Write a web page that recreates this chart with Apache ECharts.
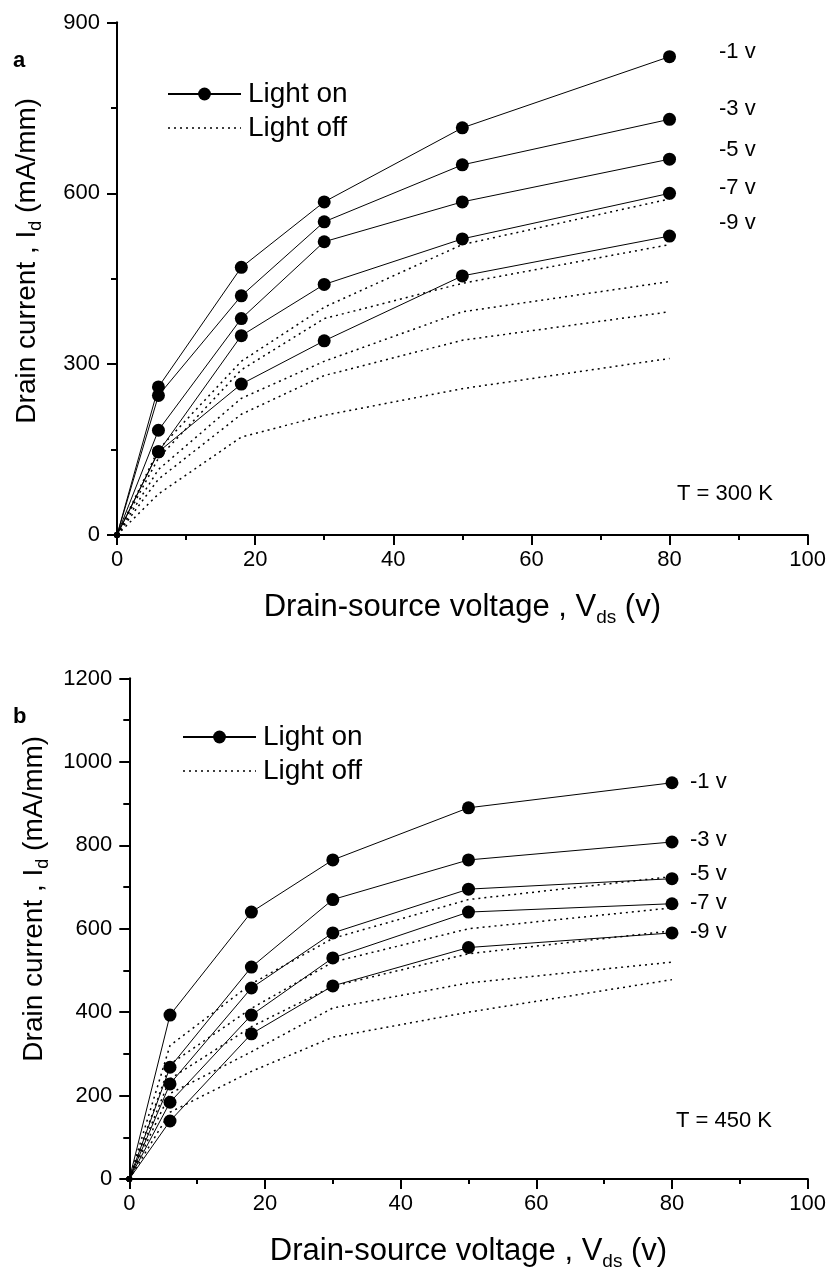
<!DOCTYPE html>
<html>
<head>
<meta charset="utf-8">
<script src="https://cdn.jsdelivr.net/npm/echarts@6/dist/echarts.min.js"></script>
<style>
  html, body { margin: 0; padding: 0; background: #fff; }
  #chart { width: 829px; height: 1272px; }
</style>
</head>
<body>
<div id="chart"></div>
<script>
// drain-source voltage points (v)
const vds = [0, 6, 18, 30, 50, 80]

// T = 300 K, light on (gate -1, -3, -5, -7, -9 v)
const onA1 = [0, 260, 470, 585, 715, 840]
const onA3 = [0, 245, 420, 550, 650, 730]
const onA5 = [0, 184, 380, 515, 585, 660]
const onA7 = [0, 146, 350, 440, 520, 600]
const onA9 = [0, 146, 265, 341, 455, 525]
// T = 300 K, light off
const offA1 = [0, 150, 305, 400, 510, 590]
const offA2 = [0, 135, 290, 380, 442, 510]
const offA3 = [0, 115, 240, 305, 392, 445]
const offA4 = [0, 98, 212, 280, 342, 392]
const offA5 = [0, 72, 172, 210, 257, 310]

// T = 450 K, light on
const onB1 = [0, 393, 640, 765, 890, 950]
const onB3 = [0, 268, 508, 670, 765, 808]
const onB5 = [0, 228, 458, 590, 695, 720]
const onB7 = [0, 184, 393, 530, 640, 660]
const onB9 = [0, 139, 348, 463, 555, 590]
// T = 450 K, light off
const offB1 = [0, 320, 468, 577, 670, 725]
const offB2 = [0, 275, 409, 520, 600, 650]
const offB3 = [0, 240, 365, 462, 540, 595]
const offB4 = [0, 205, 305, 410, 470, 520]
const offB5 = [0, 160, 258, 340, 400, 478]

const gateLabels = ["-1 v", "-3 v", "-5 v", "-7 v", "-9 v"]

const FONT = "Liberation Sans, Arial, sans-serif"
const black = "#000"
const dotted = [2, 4]

const pairs = (ys) => vds.map((x, i) => [x, ys[i]])

const onSeries = (ys, g) => ({
  name: "Light on",
  type: "line",
  xAxisIndex: g * 2,
  yAxisIndex: g * 2,
  data: pairs(ys),
  symbol: "circle",
  // the point at the origin sits on the frame and shows only as a small blob
  symbolSize: (v) => (v[0] === 0 ? 6 : 13),
  itemStyle: { color: black },
  lineStyle: { color: black, width: 1 },
  z: 3
})

const offSeries = (ys, g) => ({
  name: "Light off",
  type: "line",
  xAxisIndex: g * 2,
  yAxisIndex: g * 2,
  data: pairs(ys),
  symbol: "none",
  itemStyle: { color: black },
  lineStyle: { color: black, width: 1.5, type: dotted },
  z: 2
})

const subRich = (size, pad) => ({
  sub: { fontSize: size, fontFamily: FONT, color: black, padding: [pad, 0, 0, 0] }
})

const xBottom = (g) => ({
  type: "value",
  gridIndex: g,
  position: "bottom",
  min: 0,
  max: 100,
  interval: 20,
  axisLine: { lineStyle: { color: black, width: 2 } },
  axisTick: { inside: false, length: 10, lineStyle: { color: black, width: 2 } },
  minorTick: { show: true, splitNumber: 2, length: 5, lineStyle: { color: black, width: 2 } },
  axisLabel: { color: black, fontSize: 22, fontFamily: FONT, margin: 14 },
  splitLine: { show: false },
  name: "Drain-source voltage , V{sub|ds} (v)",
  nameLocation: "middle",
  nameGap: 53,
  nameTextStyle: { color: black, fontSize: 31, fontFamily: FONT, rich: subRich(19, 20) }
})

const xTop = (g) => ({
  type: "value",
  gridIndex: g,
  position: "top",
  min: 0,
  max: 100,
  interval: 10,
  axisLine: { lineStyle: { color: black, width: 2 } },
  axisTick: { inside: true, length: 4, lineStyle: { color: black, width: 1.5 } },
  axisLabel: { show: false },
  splitLine: { show: false }
})

const yLeft = (g, max, step, pad) => ({
  type: "value",
  gridIndex: g,
  position: "left",
  min: 0,
  max: max,
  interval: step,
  axisLine: { show: true, lineStyle: { color: black, width: 2 } },
  axisTick: { show: true, inside: false, length: 10, lineStyle: { color: black, width: 2 } },
  minorTick: { show: true, splitNumber: 2, length: 6, lineStyle: { color: black, width: 2 } },
  axisLabel: { color: black, fontSize: 22, fontFamily: FONT, margin: 17, formatter: (v) => String(v) },
  splitLine: { show: false },
  name: "Drain current , I{sub|d} (mA/mm)",
  nameLocation: "middle",
  nameRotate: 90,
  nameGap: 72,
  nameTextStyle: { color: black, fontSize: 28, fontFamily: FONT, rich: subRich(18, 18), padding: [0, 0, 0, pad] }
})

const yRight = (g, max, step) => ({
  type: "value",
  gridIndex: g,
  position: "right",
  min: 0,
  max: max,
  interval: step,
  axisLine: { show: true, lineStyle: { color: black, width: 2 } },
  axisTick: { show: true, inside: true, length: 4, lineStyle: { color: black, width: 1.5 } },
  axisLabel: { show: false },
  splitLine: { show: false }
})

const legendBox = (left, top) => ({
  orient: "vertical",
  left: left,
  top: top,
  itemWidth: 73,
  itemHeight: 16,
  itemGap: 6,
  selectedMode: false,
  data: [
    { name: "Light on" },
    {
      name: "Light off",
      itemStyle: { color: "rgba(0,0,0,0)", borderWidth: 0 },
      lineStyle: { color: black, width: 1.5, type: dotted }
    }
  ],
  textStyle: { color: black, fontSize: 28, fontFamily: FONT, padding: [0, 0, 0, 2] }
})

const txt = (left, top, text, size, bold) => ({
  type: "text",
  left: left,
  top: top,
  style: {
    text: text,
    fill: black,
    font: (bold ? "bold " : "") + size + "px " + FONT
  }
})

const labelsA = [41, 98, 139, 177, 212]
const labelsB = [771, 829, 863, 892, 921]

const chart = echarts.init(document.getElementById("chart"))

chart.setOption({
  backgroundColor: "#fff",
  animation: false,
  grid: [
    { left: 117, top: 22.5, width: 691, height: 512.5 },
    { left: 129.3, top: 678.5, width: 678.4, height: 503.2 }
  ],
  xAxis: [xBottom(0), xTop(0), xBottom(1), xTop(1)],
  yAxis: [yLeft(0, 900, 300, 36), yRight(0, 900, 150), yLeft(1, 1200, 200, 60), yRight(1, 1200, 100)],
  legend: [legendBox(162, 75), legendBox(177, 718)],
  series: [
    onSeries(onA1, 0), onSeries(onA3, 0), onSeries(onA5, 0), onSeries(onA7, 0), onSeries(onA9, 0),
    offSeries(offA1, 0), offSeries(offA2, 0), offSeries(offA3, 0), offSeries(offA4, 0), offSeries(offA5, 0),
    onSeries(onB1, 1), onSeries(onB3, 1), onSeries(onB5, 1), onSeries(onB7, 1), onSeries(onB9, 1),
    offSeries(offB1, 1), offSeries(offB2, 1), offSeries(offB3, 1), offSeries(offB4, 1), offSeries(offB5, 1)
  ],
  graphic: [
    txt(13, 50, "a", 22, true),
    txt(13, 706, "b", 22, true),
    ...gateLabels.map((t, i) => txt(719, labelsA[i], t, 22)),
    ...gateLabels.map((t, i) => txt(690, labelsB[i], t, 22)),
    txt(677, 483, "T = 300 K", 22),
    txt(676, 1110, "T = 450 K", 22)
  ]
})
</script>
</body>
</html>
